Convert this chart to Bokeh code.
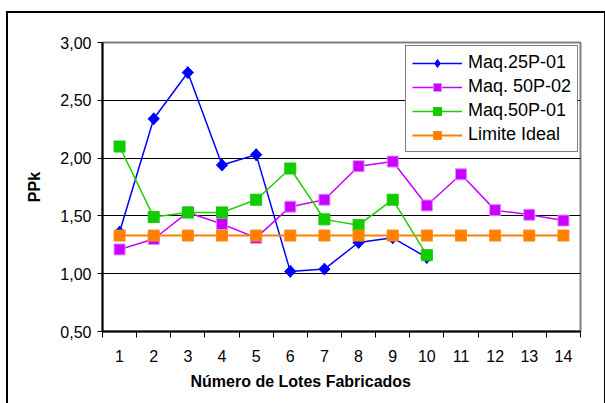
from math import pi

from bokeh.embed import file_html
from bokeh.models import FixedTicker, InlineStyleSheet, Legend, LegendItem, LinearAxis, Range1d, Title
from bokeh.plotting import figure
from bokeh.resources import INLINE

# PPk per manufactured lot, for each machine
lotes = list(range(1, 15))
maq_25p01 = [1.36, 2.34, 2.74, 1.94, 2.03, 1.02, 1.04, 1.27, 1.31, 1.14]
maq_50p02 = [1.21, 1.30, 1.53, 1.43, 1.31, 1.58, 1.64, 1.93, 1.97, 1.59, 1.86, 1.55, 1.51, 1.46]
maq_50p01 = [2.10, 1.49, 1.53, 1.53, 1.64, 1.91, 1.47, 1.42, 1.64, 1.16]
limite_ideal = [1.33] * 14

y_ticks = [0.5, 1.0, 1.5, 2.0, 2.5, 3.0]
y_tick_labels = ["0,50", "1,00", "1,50", "2,00", "2,50", "3,00"]
x_label = "Número de Lotes Fabricados"
y_label = "PPk"

FONT = "Liberation Sans"

p = figure(
    width=605, height=403,
    x_range=Range1d(0.5, 14.5), y_range=Range1d(0.5, 3.0),
    output_backend="svg", toolbar_location=None,
    min_border_left=102, min_border_right=25, min_border_top=42, min_border_bottom=72,
)
# outer chart border; its right and bottom edges fall just past the page
p.stylesheets = [InlineStyleSheet(css="""
:host { position: relative; }
:host::after {
  content: "";
  position: absolute;
  left: 6px; top: 11px;
  width: 596px; height: 390px;
  border: 2px solid black;
  pointer-events: none;
  z-index: 1000;
}
""")]
p.border_fill_color = "white"
p.background_fill_color = "white"
p.outline_line_color = "#808080"
p.outline_line_width = 2

# horizontal grid only
p.xgrid.grid_line_color = None
p.ygrid.ticker = FixedTicker(ticks=y_ticks)
p.ygrid.grid_line_color = "black"
p.ygrid.grid_line_width = 1

# y axis
p.yaxis.ticker = FixedTicker(ticks=y_ticks)
p.yaxis.major_label_overrides = dict(zip(y_ticks, y_tick_labels))
p.yaxis.axis_line_color = "black"
p.yaxis.axis_line_width = 2
p.yaxis.major_tick_out = 5
p.yaxis.major_tick_in = 0
p.yaxis.minor_tick_line_color = None
p.yaxis.major_label_text_font = FONT
p.yaxis.major_label_text_font_size = "16px"
p.yaxis.major_label_text_color = "black"
p.yaxis.major_label_standoff = 6
p.yaxis.axis_label = y_label
p.yaxis.axis_label_text_font = FONT
p.yaxis.axis_label_text_font_style = "bold"
p.yaxis.axis_label_text_font_size = "16px"
p.yaxis.axis_label_text_color = "black"
p.yaxis.axis_label_standoff = 14

# x axis: tick marks between lots
bounds = [i + 0.5 for i in range(0, 15)]
p.xaxis.ticker = FixedTicker(ticks=bounds)
p.xaxis.major_label_overrides = {b: "" for b in bounds}
p.xaxis.axis_line_color = "black"
p.xaxis.axis_line_width = 2
p.xaxis.major_tick_out = 6
p.xaxis.major_tick_in = 0
p.xaxis.major_tick_line_color = "black"
p.xaxis.minor_tick_line_color = None
p.xaxis.major_label_standoff = 0

# second x axis: lot numbers, no line or ticks
lot_axis = LinearAxis(
    ticker=FixedTicker(ticks=lotes),
    axis_line_color=None, major_tick_line_color=None, minor_tick_line_color=None,
    major_label_text_font=FONT, major_label_text_font_size="16px",
    major_label_text_color="black", major_label_standoff=6,
)
p.add_layout(lot_axis, "below")

p.add_layout(Title(text=x_label, align="left", offset=88, text_font=FONT,
                   text_font_style="bold", text_font_size="16px", text_color="black",
                   standoff=13), "below")

# series
x10 = lotes[:10]
l1 = p.line(x10, maq_25p01, line_color="#0000FF", line_width=1.5)
k1 = p.scatter(x10, maq_25p01, marker="diamond", size=12, fill_color="#0000FF", line_color="#0000FF")
s1 = p.scatter(x10, maq_25p01, marker="square", angle=pi / 4, size=8,
               fill_color="#0000FF", line_color="#0000FF")

l2 = p.line(lotes, maq_50p02, line_color="#CC00FF", line_width=1.5)
s2 = p.scatter(lotes, maq_50p02, marker="square", size=11, fill_color="#CC00FF", line_color="#D98CFF")

l3 = p.line(x10, maq_50p01, line_color="#22CC00", line_width=1.5)
s3 = p.scatter(x10, maq_50p01, marker="square", size=11, fill_color="#11CC00", line_color="#11CC00")

l4 = p.line(lotes, limite_ideal, line_color="#FF8000", line_width=2)
s4 = p.scatter(lotes, limite_ideal, marker="square", size=11, fill_color="#FF8000", line_color="#FF8A10")

legend = Legend(
    items=[
        LegendItem(label="Maq.25P-01", renderers=[l1, k1]),
        LegendItem(label="Maq. 50P-02", renderers=[l2, s2]),
        LegendItem(label="Maq.50P-01", renderers=[l3, s3]),
        LegendItem(label="Limite Ideal", renderers=[l4, s4]),
    ],
    location=(303, 179),
    border_line_color="black", border_line_width=1,
    background_fill_color="white", background_fill_alpha=1,
    label_text_font=FONT, label_text_font_size="18px", label_text_color="black",
    glyph_width=50, glyph_height=20, label_height=20, label_standoff=6,
    spacing=3, padding=6, margin=0,
)
p.add_layout(legend)

open("out.html", "w").write(file_html(p, INLINE))
